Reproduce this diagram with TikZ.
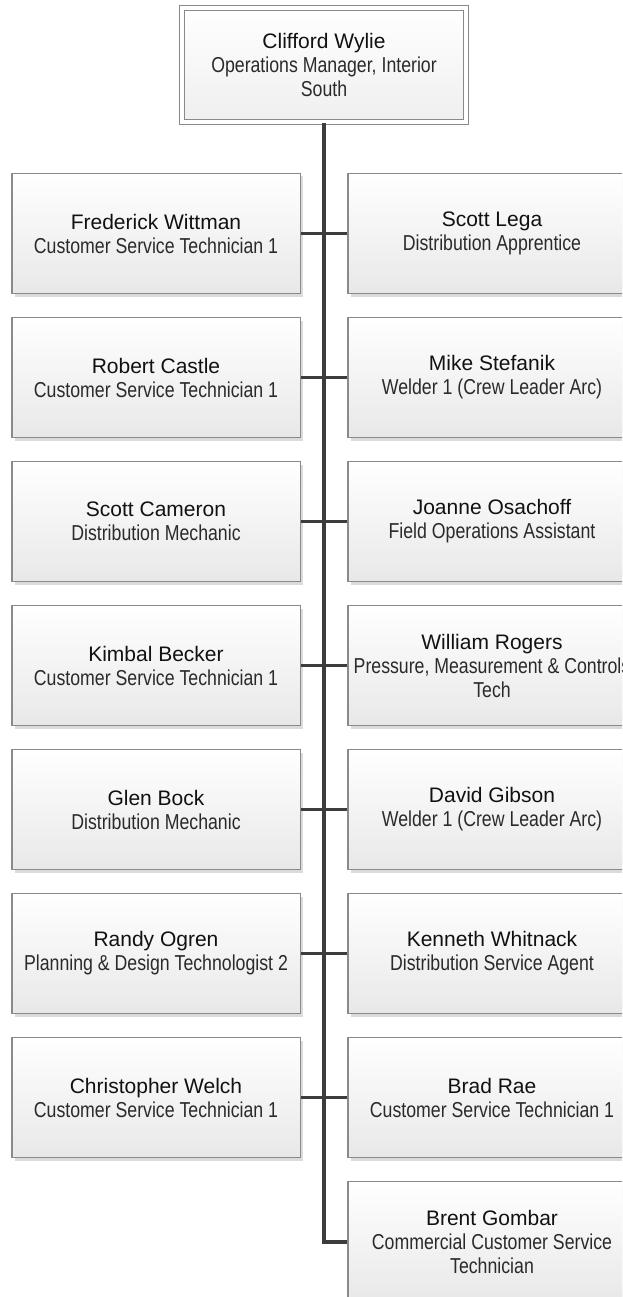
\documentclass[tikz,border=0pt]{standalone}
\usepackage{fontspec}
\setmainfont{Liberation Sans}
\newfontfamily\narrowfont[FakeStretch=0.82]{Liberation Sans}
\usetikzlibrary{shadows}

\definecolor{boxline}{HTML}{8A8A8A}
\definecolor{boxlow}{HTML}{E8E8E8}
\definecolor{trunk}{HTML}{3C3C3C}
\definecolor{nametext}{HTML}{111111}
\definecolor{roletext}{HTML}{2A2A2A}

\newcommand{\pname}[1]{{\fontsize{21}{24}\selectfont\color{nametext}#1}}
\newcommand{\prole}[1]{{\fontsize{21.6}{24}\selectfont\narrowfont\color{roletext}#1}}

\tikzset{
  person/.style={rectangle, draw=boxline, line width=1.5pt,
    top color=white, bottom color=boxlow,
    minimum width=288.5pt, minimum height=120pt, inner sep=0pt,
    align=center, font=\fontsize{21}{24}\selectfont,
    drop shadow={shadow xshift=3pt, shadow yshift=-3pt, fill=black!14, opacity=1}},
  headbox/.style={rectangle, draw=boxline, line width=1.3pt,
    double=white, double distance=3.4pt,
    top color=white, bottom color=boxlow!70!white,
    minimum width=284pt, minimum height=114pt, inner sep=0pt,
    align=center, font=\fontsize{21}{24}\selectfont},
  conn/.style={draw=trunk, line width=3pt},
  trunkline/.style={draw=trunk, line width=4pt}
}

\begin{document}
\begin{tikzpicture}[x=1pt, y=-1pt]
\useasboundingbox (0,0) rectangle (622,1297);
\clip (0,0) rectangle (622,1297);

% manager
\node[headbox] (top) at (324,65) {\pname{Clifford Wylie}\\\prole{Operations Manager, Interior}\\\prole{South}};

% left column
\node[person] (L1) at (156,233.5) {\pname{Frederick Wittman}\\\prole{Customer Service Technician 1}};
\node[person] (L2) at (156,377.5) {\pname{Robert Castle}\\\prole{Customer Service Technician 1}};
\node[person] (L3) at (156,521.5) {\pname{Scott Cameron}\\\prole{Distribution Mechanic}};
\node[person] (L4) at (156,665.5) {\pname{Kimbal Becker}\\\prole{Customer Service Technician 1}};
\node[person] (L5) at (156,809.5) {\pname{Glen Bock}\\\prole{Distribution Mechanic}};
\node[person] (L6) at (156,953.5) {\pname{Randy Ogren}\\\prole{Planning \& Design Technologist 2}};
\node[person] (L7) at (156,1097.5) {\pname{Christopher Welch}\\\prole{Customer Service Technician 1}};

% right column
\node[person] (R1) at (492,233.5) {\pname{Scott Lega}\\\prole{Distribution Apprentice}};
\node[person] (R2) at (492,377.5) {\pname{Mike Stefanik}\\\prole{Welder 1 (Crew Leader Arc)}};
\node[person] (R3) at (492,521.5) {\pname{Joanne Osachoff}\\\prole{Field Operations Assistant}};
\node[person] (R4) at (492,665.5) {\pname{William Rogers}\\\prole{Pressure, Measurement \& Controls}\\\prole{Tech}};
\node[person] (R5) at (492,809.5) {\pname{David Gibson}\\\prole{Welder 1 (Crew Leader Arc)}};
\node[person] (R6) at (492,953.5) {\pname{Kenneth Whitnack}\\\prole{Distribution Service Agent}};
\node[person] (R7) at (492,1097.5) {\pname{Brad Rae}\\\prole{Customer Service Technician 1}};
\node[person] (R8) at (492,1241.5) {\pname{Brent Gombar}\\\prole{Commercial Customer Service}\\\prole{Technician}};

% reporting lines
\draw[trunkline] (top.south) |- (R8.west);
\foreach \k in {1,...,7}{
  \draw[conn] (L\k.east) -- (R\k.west);
}
\end{tikzpicture}
\end{document}
